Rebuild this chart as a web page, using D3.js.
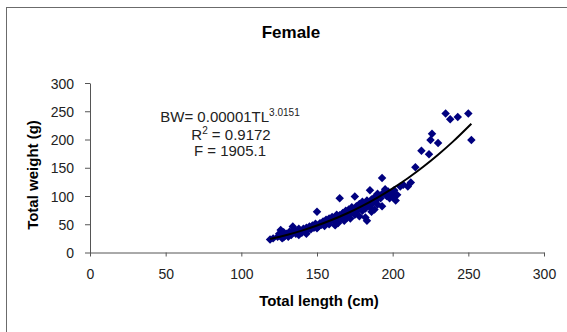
<!DOCTYPE html>
<html>
<head>
<meta charset="utf-8">
<script src="https://cdn.jsdelivr.net/npm/d3@7"></script>
<style>
  body { margin: 0; background: #fff; }
  svg { display: block; font-family: "Liberation Sans", Arial, sans-serif; }
</style>
</head>
<body>
<div id="chart"></div>
<script>
// total length (cm) and total weight (g) of each female
const lengths = [119,121,124,125,126,127,128,128,129,130,131,132,133,134,134,135,136,137,138,138,
  139,140,141,142,143,143,144,145,146,147,148,149,150,150,151,152,153,154,155,156,
  157,158,158,159,160,161,162,162,163,164,164,165,165,166,167,168,168,169,170,170,
  171,172,172,173,174,175,175,176,176,177,178,178,179,180,180,181,182,182,183,183,
  184,185,185,186,186,187,188,188,189,190,190,191,192,193,193,194,195,196,197,198,
  199,200,201,202,203,205,207,210,212,215,219,224,225,226,230,235,238,243,250,252];
const weights = [23,25,28,33,40,25,27,36,30,33,28,37,31,46,35,40,33,36,42,31,
  38,35,42,37,44,33,40,46,41,48,44,51,72,43,46,52,49,55,47,58,
  52,60,50,55,63,57,60,48,67,62,52,96,66,60,70,65,56,74,68,62,
  76,70,60,80,74,99,67,82,72,78,86,64,80,90,74,84,78,62,56,92,
  86,110,80,94,72,88,98,76,92,104,85,100,96,132,82,106,112,100,108,96,
  104,98,110,92,102,117,120,117,124,151,180,174,199,210,194,246,236,240,246,199];

// power trendline
const trendLength = [119,130,140,150,160,170,180,190,200,210,220,230,240,252];
const trendWeight = [23.7,31,38.7,47.7,57.9,69.5,82.6,97.3,113.5,131.5,151.3,173,196.7,227.9];

const xTicks = [0,50,100,150,200,250,300];
const yTicks = [0,50,100,150,200,250,300];
const equation = ['BW= 0.00001TL', '3.0151'];
const rSquared = '0.9172';
const fValue = '1905.1';

const width = 567, height = 332;

const svg = d3.select('#chart')
  .append('svg')
  .attr('width', width)
  .attr('height', height);

// chart border (runs off the right and bottom edge)
svg.append('rect')
  .attr('x', 6.5).attr('y', 7.5)
  .attr('width', 575).attr('height', 340)
  .attr('fill', '#fff')
  .attr('stroke', '#6b6b6b');

const x = d3.scaleLinear().domain([0, 300]).range([90, 544]);
const y = d3.scaleLinear().domain([0, 300]).range([252.5, 83]);

// axes
const xAxis = svg.append('g')
  .attr('transform', `translate(0,${y(0)})`)
  .call(d3.axisBottom(x).tickValues(xTicks).tickSize(4).tickSizeOuter(0).tickPadding(13));

const yAxis = svg.append('g')
  .attr('transform', `translate(${x(0)},0)`)
  .call(d3.axisLeft(y).tickValues(yTicks).tickSize(5).tickSizeOuter(0).tickPadding(11));

[xAxis, yAxis].forEach(g => {
  g.selectAll('path, line').attr('stroke', '#555');
  g.selectAll('text')
    .attr('fill', '#222')
    .style('font-size', '14px')
    .style('font-family', '"Liberation Sans", Arial, sans-serif');
});
yAxis.selectAll('text').attr('dy', '0.36em');

// title
svg.append('text')
  .attr('x', 291).attr('y', 37.5)
  .attr('text-anchor', 'middle')
  .style('font-size', '17px')
  .style('font-weight', 'bold')
  .text('Female');

// axis titles
svg.append('text')
  .attr('x', 319).attr('y', 306)
  .attr('text-anchor', 'middle')
  .style('font-size', '15px')
  .style('font-weight', 'bold')
  .text('Total length (cm)');

svg.append('text')
  .attr('transform', 'translate(38,175) rotate(-90)')
  .attr('text-anchor', 'middle')
  .style('font-size', '15px')
  .style('font-weight', 'bold')
  .text('Total weight (g)');

// data points - diamonds
const points = lengths.map((l, i) => ({ l: l, w: weights[i] }));

svg.selectAll('path.pt')
  .data(points)
  .enter()
  .append('path')
  .attr('class', 'pt')
  .attr('d', d3.symbol().type(d3.symbolSquare).size(36))
  .attr('transform', d => `translate(${x(d.l)},${y(d.w)}) rotate(45)`)
  .attr('fill', '#00007f');

// trendline
const trend = trendLength.map((l, i) => [l, trendWeight[i]]);
svg.append('path')
  .datum(trend)
  .attr('fill', 'none')
  .attr('stroke', '#000')
  .attr('stroke-width', 2)
  .attr('d', d3.line().x(d => x(d[0])).y(d => y(d[1])).curve(d3.curveMonotoneX));

// equation label
const eq = svg.append('text')
  .attr('x', 230).attr('y', 122)
  .attr('text-anchor', 'middle')
  .attr('fill', '#222')
  .style('font-size', '15px');
eq.append('tspan').text(equation[0]);
eq.append('tspan').attr('dy', -6).style('font-size', '10px').text(equation[1]);

const r2 = svg.append('text')
  .attr('x', 231).attr('y', 139.5)
  .attr('text-anchor', 'middle')
  .attr('fill', '#222')
  .style('font-size', '15px');
r2.append('tspan').text('R');
r2.append('tspan').attr('dy', -6).style('font-size', '10px').text('2');
r2.append('tspan').attr('dy', 6).text(' = ' + rSquared);

svg.append('text')
  .attr('x', 230).attr('y', 156)
  .attr('text-anchor', 'middle')
  .attr('fill', '#222')
  .style('font-size', '15px')
  .text('F = ' + fValue);
</script>
</body>
</html>
